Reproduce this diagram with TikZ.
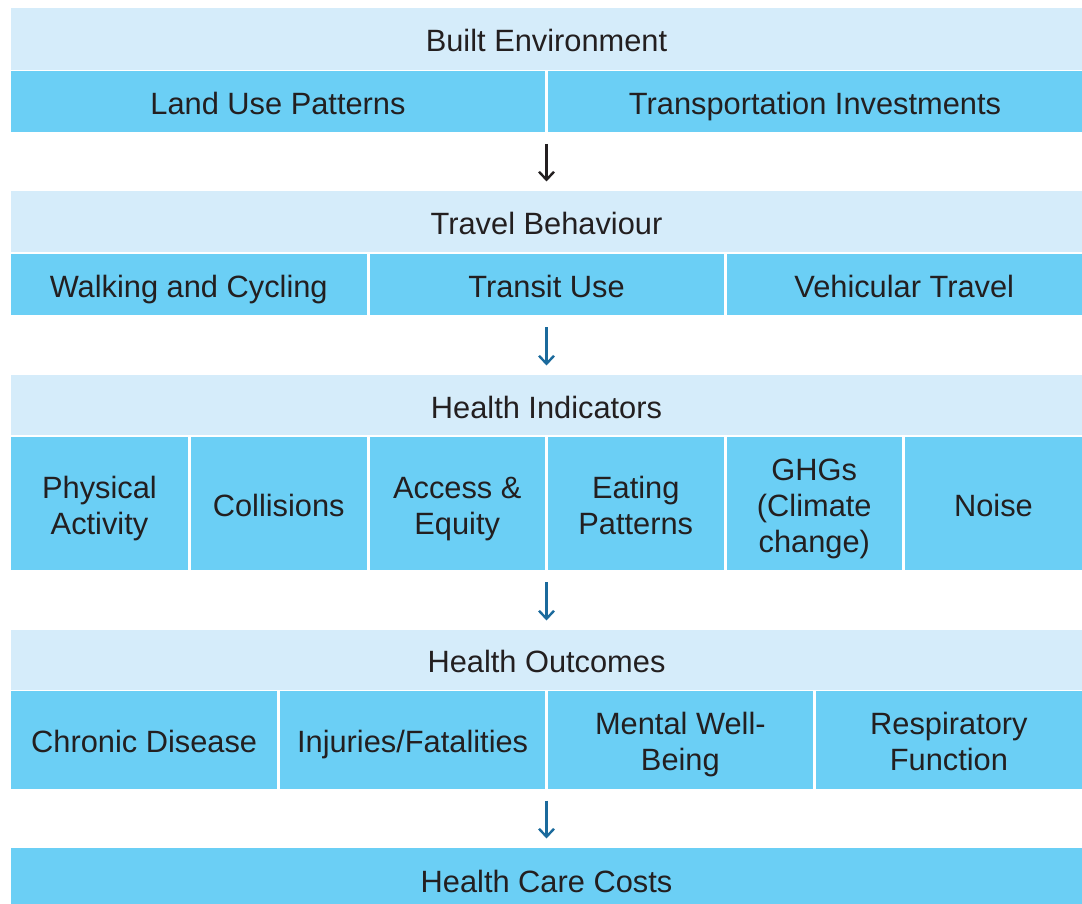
\documentclass[tikz,border=0pt]{standalone}
\usepackage{fontspec}
\setmainfont{Liberation Sans}
\usetikzlibrary{arrows.meta,calc}
\definecolor{hdr}{HTML}{D5ECFA}
\definecolor{cel}{HTML}{6BCFF5}
\definecolor{txt}{HTML}{231F20}
\definecolor{arb}{HTML}{1B6A9C}
\newcommand\mkcell[7]{\node[#6, minimum width={#3-#2}, minimum height={#5-#4}] (#1) at ({(#2+#3)/2},{(#4+#5)/2}) {#7};}
\newcommand\mlines[1]{\raisebox{0pt}[\dimexpr\height+6pt][\dimexpr\depth-6pt]{\begin{tabular}{@{}c@{}}#1\end{tabular}}}
\begin{document}
\begin{tikzpicture}[x=1pt,y=-1pt,
  box/.style={rectangle, inner sep=0pt, outer sep=0pt, draw=none, text=txt, font=\fontsize{30.8}{36}\selectfont},
  hbox/.style={box, fill=hdr, text height=26pt, text depth=0pt},
  cbox/.style={box, fill=cel, text height=26pt, text depth=0pt},
  mbox/.style={box, fill=cel},
  flow/.style={-{Straight Barb[length=8pt,width=15pt,line width=2.4pt]}, line width=2.1pt, shorten <=12pt, shorten >=9.5pt}]
\useasboundingbox (0,0) rectangle (1082,904);
% Band 1
\mkcell{be}{11}{1082}{8}{70}{hbox}{Built Environment}
\mkcell{lup}{11}{545}{71.5}{132}{cbox}{Land Use Patterns}
\mkcell{tri}{548}{1082}{71.5}{132}{cbox}{Transportation Investments}
% Band 2
\mkcell{tbh}{11}{1082}{191}{252.5}{hbox}{Travel Behaviour}
\mkcell{walk}{11}{366.5}{254}{315}{cbox}{Walking and Cycling}
\mkcell{transit}{369.5}{723.5}{254}{315}{cbox}{Transit Use}
\mkcell{veh}{726.5}{1082}{254}{315}{cbox}{Vehicular Travel}
% Band 3
\mkcell{hih}{11}{1082}{375}{435}{hbox}{Health Indicators}
\mkcell{phys}{11}{188}{436.5}{570}{mbox}{\mlines{Physical\\Activity}}
\mkcell{coll}{191}{366.5}{436.5}{570}{cbox}{Collisions}
\mkcell{access}{369.5}{545}{436.5}{570}{mbox}{\mlines{Access \&\\Equity}}
\mkcell{eating}{548}{723.5}{436.5}{570}{mbox}{\mlines{Eating\\Patterns}}
\mkcell{ghg}{726.5}{902}{436.5}{570}{mbox}{\mlines{GHGs\\(Climate\\change)}}
\mkcell{noise}{905}{1082}{436.5}{570}{cbox}{Noise}
% Band 4
\mkcell{hoh}{11}{1082}{630}{689.5}{hbox}{Health Outcomes}
\mkcell{chronic}{11}{277.25}{691}{788.5}{cbox}{Chronic Disease}
\mkcell{injuries}{280.25}{545}{691}{788.5}{cbox}{Injuries/Fatalities}
\mkcell{mental}{548}{812.75}{691}{788.5}{mbox}{\mlines{Mental Well-\\Being}}
\mkcell{resp}{815.75}{1082}{691}{788.5}{mbox}{\mlines{Respiratory\\Function}}
% Band 5
\mkcell{hcc}{11}{1082}{848}{910}{cbox}{Health Care Costs}
% Arrows
\draw[flow, txt] ($(lup.south east)!0.5!(tri.south west)$) -- (tbh.north);
\draw[flow, arb] (transit.south) -- (hih.north);
\draw[flow, arb] ($(access.south east)!0.5!(eating.south west)$) -- (hoh.north);
\draw[flow, arb] ($(injuries.south east)!0.5!(mental.south west)$) -- (hcc.north);
\end{tikzpicture}
\end{document}
